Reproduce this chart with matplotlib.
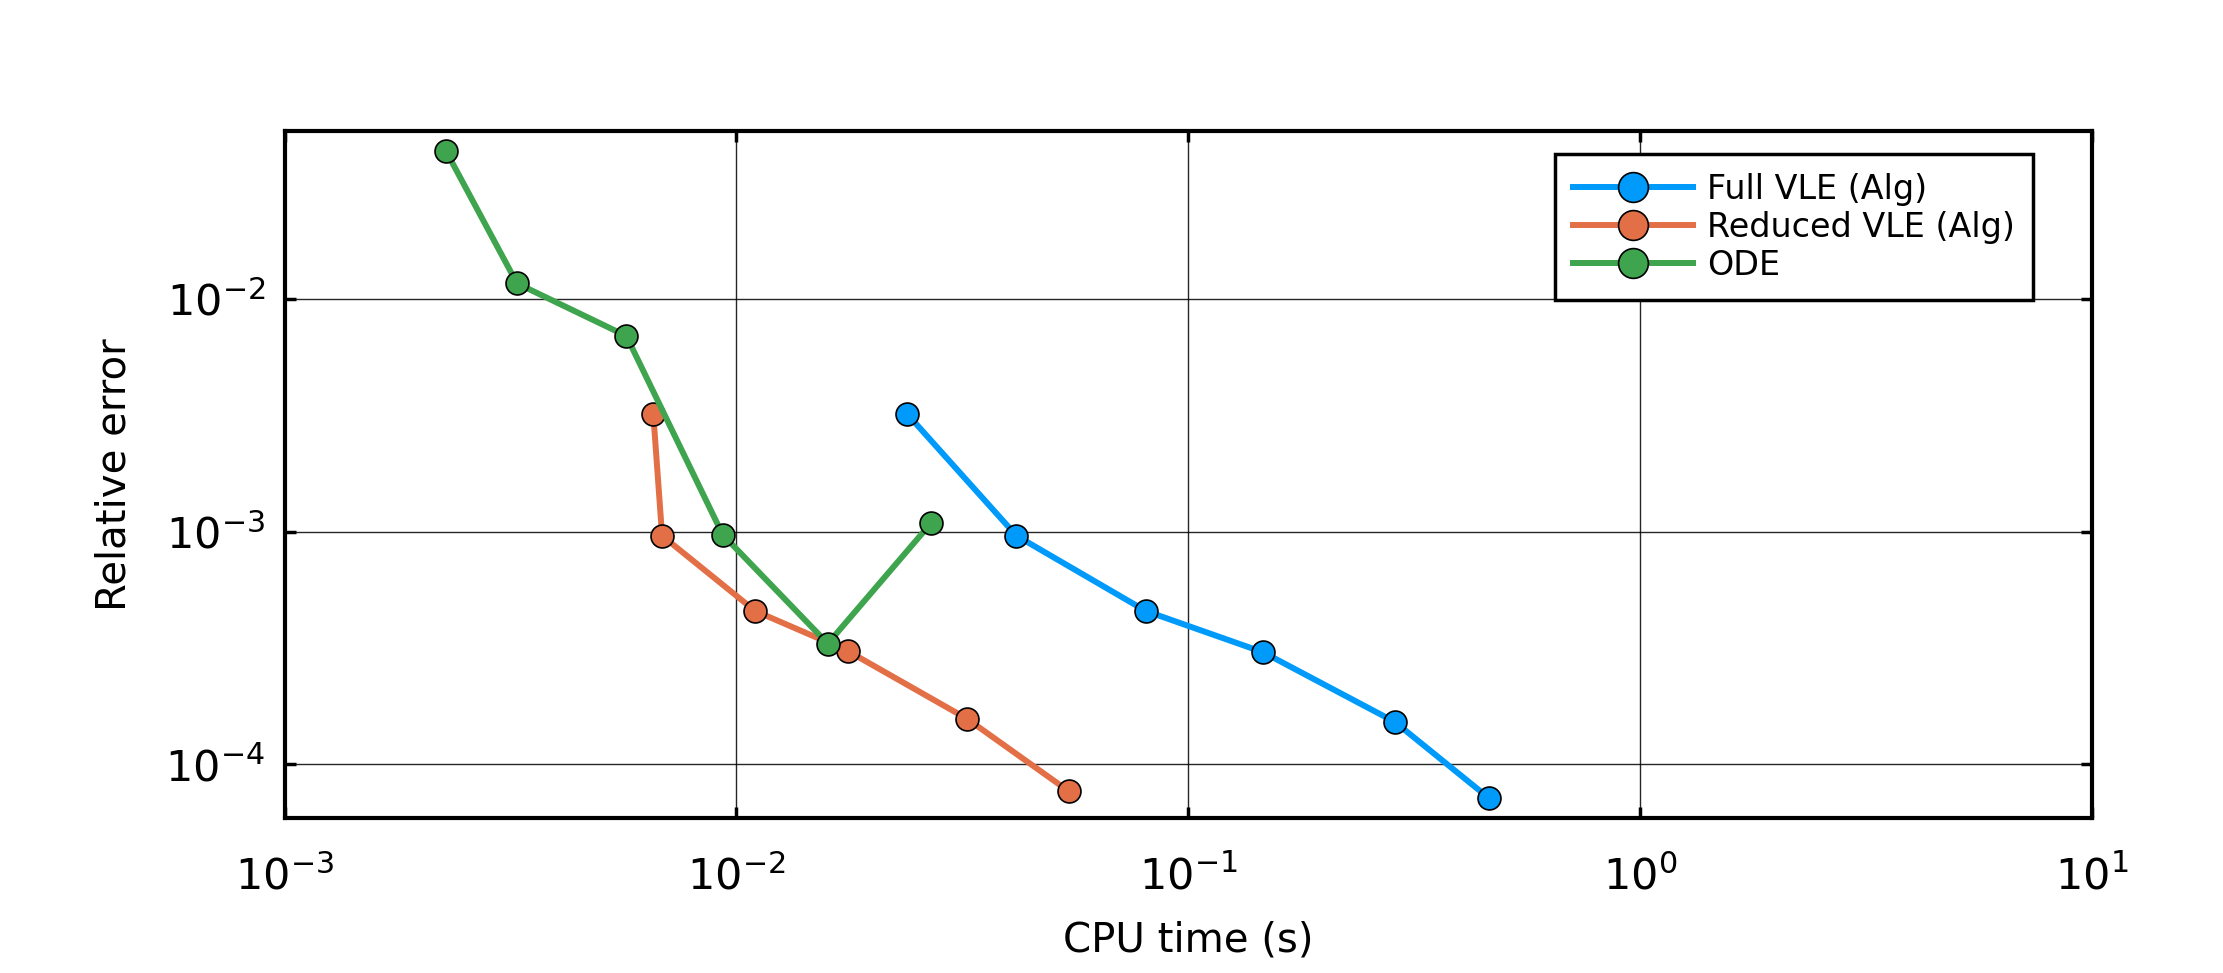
import matplotlib
matplotlib.use("Agg")
import matplotlib.pyplot as plt
from matplotlib.ticker import LogLocator, NullLocator

# Data (CPU time [s], relative error)
full_time = [0.0239, 0.0417, 0.0806, 0.1466, 0.287, 0.464]
full_err = [3.2e-3, 9.6e-4, 4.56e-4, 3.03e-4, 1.52e-4, 7.14e-5]

red_time = [6.55e-3, 6.85e-3, 0.01101, 0.01764, 0.0324, 0.0545]
red_err = [3.2e-3, 9.6e-4, 4.56e-4, 3.07e-4, 1.57e-4, 7.65e-5]

ode_time = [2.28e-3, 3.27e-3, 5.71e-3, 9.33e-3, 0.01594, 0.0270]
ode_err = [0.043, 0.01166, 6.93e-3, 9.7e-4, 3.3e-4, 1.09e-3]

labels = ["Full VLE (Alg)", "Reduced VLE (Alg)", "ODE"]
colors = ["#009AFA", "#E36F47", "#3EA44E"]

plt.rcParams['font.family'] = ['DejaVu Sans']

fig = plt.figure(figsize=(22.23, 9.73), dpi=100)
ax = fig.add_axes([0.128, 0.159, 0.8129, 0.706])

for t, e, lab, c in zip([full_time, red_time, ode_time],
                        [full_err, red_err, ode_err], labels, colors):
    ax.plot(t, e, '-o', color=c, lw=4.3, ms=16.5, mfc=c, mec='black', mew=1.2,
            label=lab, zorder=3)

ax.set_xscale('log')
ax.set_yscale('log')
ax.set_xlim(1e-3, 1e1)
ax.set_ylim(10**-4.232, 10**-1.28)

ax.xaxis.set_major_locator(LogLocator(base=10, numticks=10))
ax.yaxis.set_major_locator(LogLocator(base=10, numticks=10))
ax.xaxis.set_minor_locator(NullLocator())
ax.yaxis.set_minor_locator(NullLocator())

ax.grid(True, which='major', color='black', lw=1.0, alpha=0.85, zorder=0)
ax.tick_params(which='major', direction='in', length=8, width=2.5,
               top=True, right=True, labelsize=31)
ax.tick_params(axis='x', pad=27)
ax.tick_params(axis='y', pad=14)
for s in ax.spines.values():
    s.set_linewidth(3)

ax.set_xlabel("CPU time (s)", fontsize=29, labelpad=16)
ax.set_ylabel("Relative error", fontsize=29, labelpad=22)

leg = ax.legend(loc='upper right', bbox_to_anchor=(0.9675, 0.9667),
                borderaxespad=0, fontsize=24, fancybox=False, framealpha=1,
                edgecolor='black', handlelength=3.6, labelspacing=0.15,
                borderpad=0.55, handletextpad=0.4, markerscale=1.3)
leg.get_frame().set_linewidth(2.5)

fig.savefig("out.png", dpi=100)
